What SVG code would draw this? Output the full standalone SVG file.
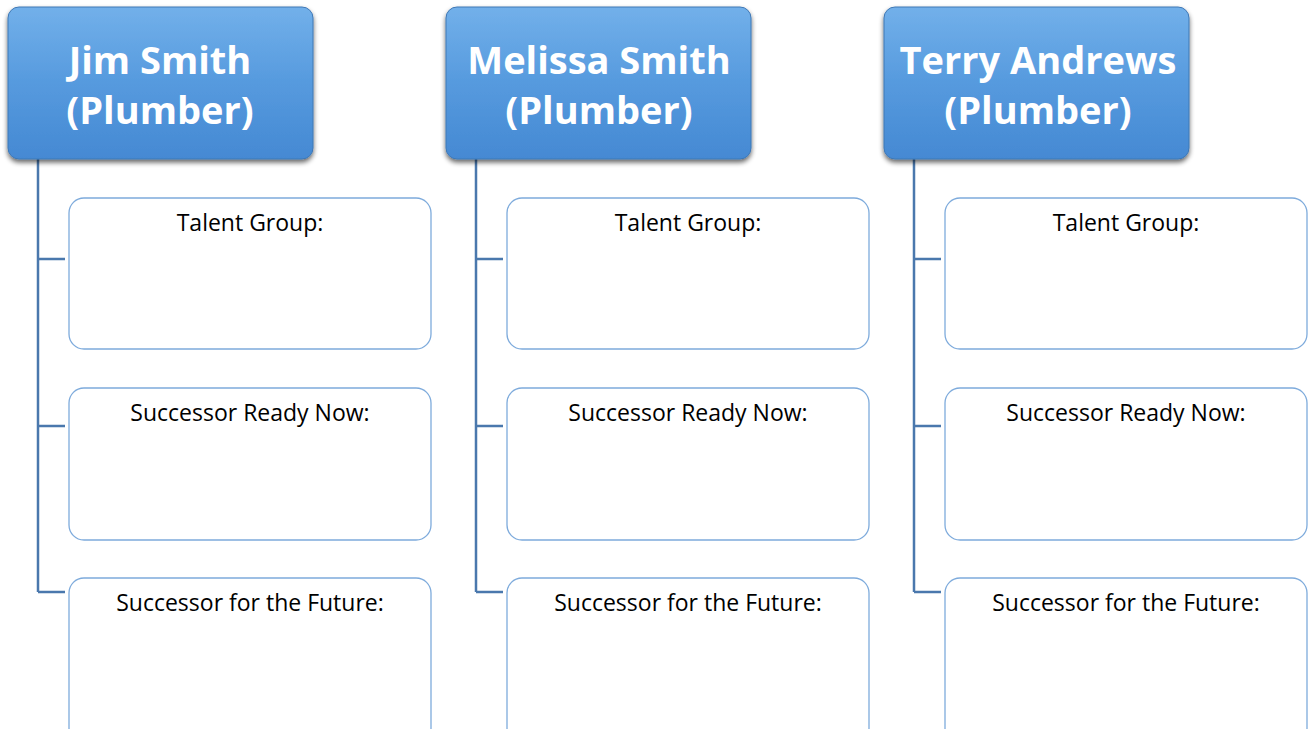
<svg xmlns="http://www.w3.org/2000/svg" width="1312" height="729" viewBox="0 0 1312 729">
<defs>
<linearGradient id="hg" x1="0" y1="0" x2="0" y2="1">
<stop offset="0" stop-color="#72b0ea"/>
<stop offset="0.5" stop-color="#569ade"/>
<stop offset="1" stop-color="#4589d3"/>
</linearGradient>
<filter id="sh" x="-10%" y="-10%" width="125%" height="130%">
<feGaussianBlur in="SourceAlpha" stdDeviation="2.5"/>
<feOffset dx="0" dy="3"/>
<feComponentTransfer><feFuncA type="linear" slope="0.6"/></feComponentTransfer>
<feMerge><feMergeNode/><feMergeNode in="SourceGraphic"/></feMerge>
</filter>
</defs>
<style>
.hd{fill:url(#hg);stroke:#3f78b5;stroke-width:1;filter:url(#sh)}
.ht{font-family:"Open Sans","Liberation Sans",sans-serif;font-weight:bold;font-size:38px;fill:#fff;text-anchor:middle}
.cb{fill:#fff;stroke:#7eabdc;stroke-width:1.3}
.ct{font-family:"Open Sans","Liberation Sans",sans-serif;font-size:23px;fill:#000;text-anchor:middle}
.ln{fill:none;stroke:#4a78ad;stroke-width:2.5}
</style>
<rect width="1312" height="729" fill="#fff"/>
<g id="connectors">
<path class="ln" d="M38,159 V592 M38,259 H65 M38,426 H65 M38,592 H65"/>
<path class="ln" d="M476,159 V592 M476,259 H503 M476,426 H503 M476,592 H503"/>
<path class="ln" d="M914,159 V592 M914,259 H941 M914,426 H941 M914,592 H941"/>
</g>
<g id="jim">
<rect class="hd" x="8" y="7" width="305" height="152" rx="11"/>
<text class="ht" x="160" y="74">Jim Smith</text>
<text class="ht" x="160" y="124">(Plumber)</text>
</g>
<g id="melissa">
<rect class="hd" x="446" y="7" width="305" height="152" rx="11"/>
<text class="ht" x="599" y="74">Melissa Smith</text>
<text class="ht" x="599" y="124">(Plumber)</text>
</g>
<g id="terry">
<rect class="hd" x="884" y="7" width="305" height="152" rx="11"/>
<text class="ht" x="1038" y="74">Terry Andrews</text>
<text class="ht" x="1038" y="124">(Plumber)</text>
</g>
<g id="jim-talent"><rect class="cb" x="69" y="198" width="362" height="151" rx="15"/><text class="ct" x="250" y="231">Talent Group:</text></g>
<g id="jim-ready"><rect class="cb" x="69" y="388" width="362" height="152" rx="15"/><text class="ct" x="250" y="421">Successor Ready Now:</text></g>
<g id="jim-future"><rect class="cb" x="69" y="578" width="362" height="165" rx="15"/><text class="ct" x="250" y="611">Successor for the Future:</text></g>
<g id="melissa-talent"><rect class="cb" x="507" y="198" width="362" height="151" rx="15"/><text class="ct" x="688" y="231">Talent Group:</text></g>
<g id="melissa-ready"><rect class="cb" x="507" y="388" width="362" height="152" rx="15"/><text class="ct" x="688" y="421">Successor Ready Now:</text></g>
<g id="melissa-future"><rect class="cb" x="507" y="578" width="362" height="165" rx="15"/><text class="ct" x="688" y="611">Successor for the Future:</text></g>
<g id="terry-talent"><rect class="cb" x="945" y="198" width="362" height="151" rx="15"/><text class="ct" x="1126" y="231">Talent Group:</text></g>
<g id="terry-ready"><rect class="cb" x="945" y="388" width="362" height="152" rx="15"/><text class="ct" x="1126" y="421">Successor Ready Now:</text></g>
<g id="terry-future"><rect class="cb" x="945" y="578" width="362" height="165" rx="15"/><text class="ct" x="1126" y="611">Successor for the Future:</text></g>
</svg>
